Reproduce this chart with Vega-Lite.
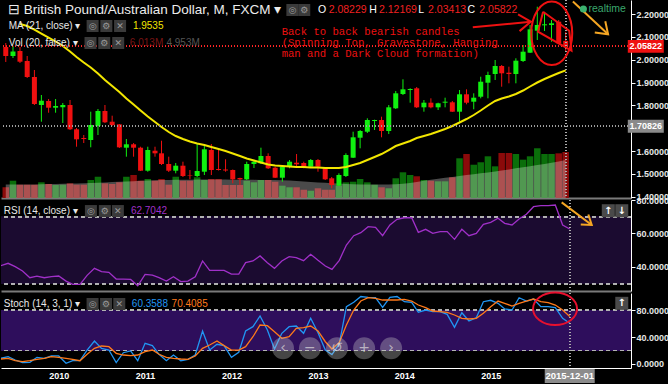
{
"$schema":"https://vega.github.io/schema/vega-lite/v6.json",
"background":"#000000",
"padding":{"left":0,"right":0,"top":-3,"bottom":0},
"spacing":2,
"bounds":"flush",
"config":{"view":{"stroke":null},"text":{"font":"Liberation Sans"},"axis":{"grid":false,"labelFont":"Liberation Sans","labelOverlap":false,"labelFlush":false,"labelBound":false}},
"datasets":{"m":[
{"date":"2009-05-01","open":2.0555,"high":2.073,"low":1.9899,"close":2.0161,"volume":1.4,"volMA":1.75,"ma21":null,"rsi":40.8,"stochK":8.4,"stochD":7.4},
{"date":"2009-06-01","open":2.0161,"high":2.0599,"low":2.0074,"close":2.0358,"volume":2.26,"volMA":1.75,"ma21":null,"rsi":42.2,"stochK":10.8,"stochD":8.4},
{"date":"2009-07-01","open":2.038,"high":2.0555,"low":1.9855,"close":1.9912,"volume":1.74,"volMA":1.76,"ma21":2.1562,"rsi":40.2,"stochK":5.9,"stochD":4.9},
{"date":"2009-08-01","open":1.9942,"high":2.0161,"low":1.9198,"close":1.9242,"volume":1.74,"volMA":1.77,"ma21":2.1475,"rsi":37.6,"stochK":2.0,"stochD":3.4},
{"date":"2009-09-01","open":1.9242,"high":1.9548,"low":1.8016,"close":1.806,"volume":1.74,"volMA":1.78,"ma21":2.1321,"rsi":33.6,"stochK":2.5,"stochD":4.9},
{"date":"2009-10-01","open":1.8016,"high":1.8454,"low":1.7285,"close":1.8204,"volume":2.05,"volMA":1.8,"ma21":2.1146,"rsi":34.6,"stochK":9.9,"stochD":6.9},
{"date":"2009-11-01","open":1.8191,"high":1.8279,"low":1.7679,"close":1.7898,"volume":1.83,"volMA":1.82,"ma21":2.0971,"rsi":33.6,"stochK":8.4,"stochD":8.4},
{"date":"2009-12-01","open":1.7898,"high":1.8279,"low":1.7679,"close":1.7972,"volume":1.7,"volMA":1.84,"ma21":2.0796,"rsi":34.2,"stochK":11.9,"stochD":10.8},
{"date":"2010-01-01","open":1.7915,"high":1.8104,"low":1.7228,"close":1.8016,"volume":1.74,"volMA":1.86,"ma21":2.0599,"rsi":34.6,"stochK":11.9,"stochD":9.9},
{"date":"2010-02-01","open":1.8016,"high":1.8235,"low":1.6922,"close":1.6952,"volume":1.92,"volMA":1.88,"ma21":2.0358,"rsi":31.6,"stochK":1.0,"stochD":8.4},
{"date":"2010-03-01","open":1.6952,"high":1.7009,"low":1.619,"close":1.6514,"volume":1.74,"volMA":1.9,"ma21":2.0118,"rsi":29.6,"stochK":4.9,"stochD":6.9},
{"date":"2010-04-01","open":1.6571,"high":1.6703,"low":1.6352,"close":1.6528,"volume":1.74,"volMA":1.93,"ma21":1.9877,"rsi":29.6,"stochK":4.9,"stochD":4.9},
{"date":"2010-05-01","open":1.6484,"high":1.7723,"low":1.6164,"close":1.714,"volume":2.35,"volMA":1.96,"ma21":1.9658,"rsi":35.0,"stochK":20.7,"stochD":14.4},
{"date":"2010-06-01","open":1.7097,"high":1.7841,"low":1.6703,"close":1.7753,"volume":2.78,"volMA":2.0,"ma21":1.9395,"rsi":39.2,"stochK":34.1,"stochD":23.2},
{"date":"2010-07-01","open":1.7753,"high":1.8016,"low":1.7228,"close":1.7259,"volume":1.92,"volMA":2.04,"ma21":1.9111,"rsi":37.2,"stochK":23.2,"stochD":26.7},
{"date":"2010-08-01","open":1.7285,"high":1.7548,"low":1.7097,"close":1.714,"volume":1.83,"volMA":2.08,"ma21":1.8848,"rsi":36.8,"stochK":20.7,"stochD":25.7},
{"date":"2010-09-01","open":1.7171,"high":1.7184,"low":1.6134,"close":1.6164,"volume":2.05,"volMA":2.12,"ma21":1.8585,"rsi":32.8,"stochK":2.0,"stochD":15.8},
{"date":"2010-10-01","open":1.6147,"high":1.6528,"low":1.5753,"close":1.6296,"volume":2.78,"volMA":2.16,"ma21":1.8301,"rsi":32.8,"stochK":16.7,"stochD":13.3},
{"date":"2010-11-01","open":1.6296,"high":1.6352,"low":1.5753,"close":1.6147,"volume":3.01,"volMA":2.2,"ma21":1.8038,"rsi":32.6,"stochK":19.3,"stochD":12.3},
{"date":"2010-12-01","open":1.6147,"high":1.619,"low":1.5127,"close":1.514,"volume":2.26,"volMA":2.24,"ma21":1.7775,"rsi":28.8,"stochK":4.9,"stochD":13.3},
{"date":"2011-01-01","open":1.514,"high":1.619,"low":1.5096,"close":1.6046,"volume":2.48,"volMA":2.28,"ma21":1.7513,"rsi":35.6,"stochK":30.6,"stochD":18.3},
{"date":"2011-02-01","open":1.6015,"high":1.619,"low":1.5753,"close":1.5901,"volume":2.26,"volMA":2.31,"ma21":1.7272,"rsi":35.2,"stochK":27.2,"stochD":20.7},
{"date":"2011-03-01","open":1.5901,"high":1.6453,"low":1.5389,"close":1.5433,"volume":2.48,"volMA":2.34,"ma21":1.7053,"rsi":33.6,"stochK":14.3,"stochD":14.4},
{"date":"2011-04-01","open":1.5433,"high":1.5753,"low":1.5083,"close":1.514,"volume":1.74,"volMA":2.36,"ma21":1.6834,"rsi":31.6,"stochK":4.9,"stochD":9.9},
{"date":"2011-05-01","open":1.514,"high":1.5477,"low":1.5026,"close":1.5359,"volume":2.78,"volMA":2.38,"ma21":1.6659,"rsi":34.2,"stochK":13.3,"stochD":8.4},
{"date":"2011-06-01","open":1.5359,"high":1.5534,"low":1.4864,"close":1.4908,"volume":2.26,"volMA":2.39,"ma21":1.6528,"rsi":31.3,"stochK":4.9,"stochD":7.4},
{"date":"2011-07-01","open":1.4951,"high":1.517,"low":1.4763,"close":1.493,"volume":2.26,"volMA":2.4,"ma21":1.6418,"rsi":31.6,"stochK":6.9,"stochD":6.9},
{"date":"2011-08-01","open":1.4908,"high":1.6339,"low":1.4864,"close":1.5127,"volume":2.71,"volMA":2.41,"ma21":1.6331,"rsi":34.2,"stochK":13.3,"stochD":11.9},
{"date":"2011-09-01","open":1.5096,"high":1.6221,"low":1.4951,"close":1.6077,"volume":2.35,"volMA":2.42,"ma21":1.6265,"rsi":43.6,"stochK":48.9,"stochD":23.2},
{"date":"2011-10-01","open":1.6046,"high":1.6309,"low":1.4951,"close":1.517,"volume":2.48,"volMA":2.42,"ma21":1.6177,"rsi":38.0,"stochK":20.7,"stochD":28.1},
{"date":"2011-11-01","open":1.5214,"high":1.6046,"low":1.5149,"close":1.517,"volume":2.48,"volMA":2.42,"ma21":1.609,"rsi":38.0,"stochK":29.2,"stochD":34.1},
{"date":"2011-12-01","open":1.5192,"high":1.5639,"low":1.5096,"close":1.5149,"volume":1.7,"volMA":2.41,"ma21":1.6002,"rsi":38.0,"stochK":27.2,"stochD":27.2},
{"date":"2012-01-01","open":1.517,"high":1.5192,"low":1.4588,"close":1.4763,"volume":1.7,"volMA":2.4,"ma21":1.5893,"rsi":35.8,"stochK":9.9,"stochD":20.7},
{"date":"2012-02-01","open":1.482,"high":1.4833,"low":1.4514,"close":1.4763,"volume":1.7,"volMA":2.39,"ma21":1.5783,"rsi":35.8,"stochK":17.3,"stochD":20.7},
{"date":"2012-03-01","open":1.4763,"high":1.5534,"low":1.4733,"close":1.5433,"volume":2.26,"volMA":2.38,"ma21":1.5674,"rsi":42.6,"stochK":48.9,"stochD":25.7},
{"date":"2012-04-01","open":1.5433,"high":1.5608,"low":1.5258,"close":1.5534,"volume":2.05,"volMA":2.37,"ma21":1.5586,"rsi":43.6,"stochK":55.3,"stochD":40.4},
{"date":"2012-05-01","open":1.5464,"high":1.6147,"low":1.5433,"close":1.5783,"volume":2.35,"volMA":2.36,"ma21":1.5499,"rsi":46.6,"stochK":71.1,"stochD":57.8},
{"date":"2012-06-01","open":1.5783,"high":1.5901,"low":1.5214,"close":1.5245,"volume":2.35,"volMA":2.35,"ma21":1.5411,"rsi":42.6,"stochK":50.4,"stochD":56.8},
{"date":"2012-07-01","open":1.5271,"high":1.5315,"low":1.482,"close":1.4833,"volume":2.13,"volMA":2.34,"ma21":1.5367,"rsi":39.2,"stochK":22.2,"stochD":47.9},
{"date":"2012-08-01","open":1.4833,"high":1.5389,"low":1.4658,"close":1.5315,"volume":1.61,"volMA":2.32,"ma21":1.5346,"rsi":43.6,"stochK":45.5,"stochD":38.0},
{"date":"2012-09-01","open":1.5315,"high":1.5608,"low":1.5245,"close":1.5534,"volume":1.4,"volMA":2.28,"ma21":1.5324,"rsi":46.2,"stochK":55.3,"stochD":40.4},
{"date":"2012-10-01","open":1.549,"high":1.5871,"low":1.5315,"close":1.542,"volume":1.4,"volMA":2.22,"ma21":1.5302,"rsi":45.6,"stochK":56.3,"stochD":52.9},
{"date":"2012-11-01","open":1.5477,"high":1.5534,"low":1.5245,"close":1.5289,"volume":1.08,"volMA":2.16,"ma21":1.5302,"rsi":43.8,"stochK":45.5,"stochD":53.8},
{"date":"2012-12-01","open":1.5315,"high":1.5652,"low":1.5302,"close":1.5608,"volume":0.95,"volMA":2.1,"ma21":1.528,"rsi":47.6,"stochK":67.7,"stochD":56.3},
{"date":"2013-01-01","open":1.5608,"high":1.5652,"low":1.5096,"close":1.5315,"volume":1.27,"volMA":2.04,"ma21":1.528,"rsi":44.0,"stochK":46.4,"stochD":48.9},
{"date":"2013-02-01","open":1.5258,"high":1.5302,"low":1.4733,"close":1.4763,"volume":1.08,"volMA":1.98,"ma21":1.5258,"rsi":40.6,"stochK":20.7,"stochD":33.0},
{"date":"2013-03-01","open":1.4807,"high":1.4864,"low":1.4369,"close":1.4514,"volume":1.08,"volMA":1.93,"ma21":1.5258,"rsi":38.6,"stochK":14.0,"stochD":22.2},
{"date":"2013-04-01","open":1.4483,"high":1.5026,"low":1.447,"close":1.4951,"volume":1.61,"volMA":1.88,"ma21":1.5258,"rsi":44.0,"stochK":30.0,"stochD":32.0},
{"date":"2013-05-01","open":1.4908,"high":1.5901,"low":1.4864,"close":1.5827,"volume":2.05,"volMA":1.84,"ma21":1.5302,"rsi":53.1,"stochK":84.9,"stochD":57.8},
{"date":"2013-06-01","open":1.5709,"high":1.6847,"low":1.5696,"close":1.6602,"volume":2.13,"volMA":1.8,"ma21":1.5389,"rsi":58.7,"stochK":91.4,"stochD":80.0},
{"date":"2013-07-01","open":1.6584,"high":1.6922,"low":1.612,"close":1.6878,"volume":2.48,"volMA":1.78,"ma21":1.5477,"rsi":60.5,"stochK":100,"stochD":93.3},
{"date":"2013-08-01","open":1.6847,"high":1.7434,"low":1.679,"close":1.7359,"volume":2.05,"volMA":1.77,"ma21":1.5608,"rsi":64.1,"stochK":98.8,"stochD":98.2},
{"date":"2013-09-01","open":1.7316,"high":1.7373,"low":1.6922,"close":1.7359,"volume":1.74,"volMA":1.76,"ma21":1.574,"rsi":63.7,"stochK":98.2,"stochD":97.3},
{"date":"2013-10-01","open":1.7359,"high":1.7504,"low":1.6602,"close":1.6878,"volume":1.4,"volMA":1.76,"ma21":1.5871,"rsi":58.7,"stochK":84.0,"stochD":94.8},
{"date":"2013-11-01","open":1.6878,"high":1.8016,"low":1.6746,"close":1.7915,"volume":1.27,"volMA":1.77,"ma21":1.6046,"rsi":65.1,"stochK":98.8,"stochD":94.8},
{"date":"2013-12-01","open":1.7872,"high":1.8629,"low":1.7841,"close":1.8528,"volume":2.58,"volMA":1.8,"ma21":1.6221,"rsi":68.5,"stochK":100,"stochD":94.8},
{"date":"2014-01-01","open":1.8498,"high":1.9141,"low":1.8454,"close":1.8703,"volume":3.36,"volMA":1.85,"ma21":1.6331,"rsi":69.4,"stochK":92.3,"stochD":95.8},
{"date":"2014-02-01","open":1.8673,"high":1.8747,"low":1.8117,"close":1.8717,"volume":3.01,"volMA":1.95,"ma21":1.644,"rsi":69.4,"stochK":91.4,"stochD":93.3},
{"date":"2014-03-01","open":1.8747,"high":1.8804,"low":1.7885,"close":1.7915,"volume":2.84,"volMA":2.1,"ma21":1.6571,"rsi":60.7,"stochK":76.6,"stochD":87.4},
{"date":"2014-04-01","open":1.7915,"high":1.8235,"low":1.7723,"close":1.8117,"volume":2.35,"volMA":2.25,"ma21":1.6659,"rsi":62.5,"stochK":80.0,"stochD":83.4},
{"date":"2014-05-01","open":1.8117,"high":1.8309,"low":1.7872,"close":1.7915,"volume":2.26,"volMA":2.4,"ma21":1.6746,"rsi":60.1,"stochK":77.5,"stochD":78.5},
{"date":"2014-06-01","open":1.7915,"high":1.8117,"low":1.7797,"close":1.8091,"volume":2.18,"volMA":2.52,"ma21":1.6856,"rsi":61.1,"stochK":77.5,"stochD":77.5},
{"date":"2014-07-01","open":1.8117,"high":1.8336,"low":1.7915,"close":1.8161,"volume":2.18,"volMA":2.64,"ma21":1.6965,"rsi":61.1,"stochK":73.6,"stochD":76.6},
{"date":"2014-08-01","open":1.8134,"high":1.8191,"low":1.771,"close":1.7723,"volume":2.71,"volMA":2.76,"ma21":1.7097,"rsi":56.5,"stochK":54.4,"stochD":72.6},
{"date":"2014-09-01","open":1.7723,"high":1.8673,"low":1.7285,"close":1.8485,"volume":5.19,"volMA":2.88,"ma21":1.725,"rsi":62.5,"stochK":76.0,"stochD":67.7},
{"date":"2014-10-01","open":1.8485,"high":1.8703,"low":1.8047,"close":1.8117,"volume":5.75,"volMA":3.0,"ma21":1.7403,"rsi":58.7,"stochK":63.7,"stochD":66.7},
{"date":"2014-11-01","open":1.8161,"high":1.8528,"low":1.7828,"close":1.8336,"volume":4.35,"volMA":3.1,"ma21":1.7578,"rsi":60.1,"stochK":68.6,"stochD":67.7},
{"date":"2014-12-01","open":1.8379,"high":1.9255,"low":1.8309,"close":1.9036,"volume":4.67,"volMA":3.22,"ma21":1.7775,"rsi":65.5,"stochK":92.3,"stochD":75.1},
{"date":"2015-01-01","open":1.8992,"high":1.9474,"low":1.8309,"close":1.9329,"volume":5.45,"volMA":3.34,"ma21":1.7994,"rsi":66.7,"stochK":94.4,"stochD":84.9},
{"date":"2015-02-01","open":1.9373,"high":1.9986,"low":1.9111,"close":1.9724,"volume":4.14,"volMA":3.46,"ma21":1.8191,"rsi":69.1,"stochK":89.9,"stochD":93.3},
{"date":"2015-03-01","open":1.9724,"high":1.9767,"low":1.8817,"close":1.9404,"volume":5.88,"volMA":3.6,"ma21":1.8301,"rsi":66.1,"stochK":81.5,"stochD":89.9},
{"date":"2015-04-01","open":1.943,"high":1.9693,"low":1.8966,"close":1.9373,"volume":5.88,"volMA":3.74,"ma21":1.8388,"rsi":65.1,"stochK":80.0,"stochD":85.9},
{"date":"2015-05-01","open":1.9373,"high":2.0061,"low":1.8966,"close":1.9956,"volume":5.75,"volMA":3.88,"ma21":1.8498,"rsi":68.7,"stochK":98.2,"stochD":89.9},
{"date":"2015-06-01","open":1.9942,"high":2.0643,"low":1.9899,"close":2.035,"volume":5.01,"volMA":4.02,"ma21":1.8651,"rsi":71.5,"stochK":93.3,"stochD":93.3},
{"date":"2015-07-01","open":2.0306,"high":2.1518,"low":2.0293,"close":2.133,"volume":5.45,"volMA":4.16,"ma21":1.8826,"rsi":76.0,"stochK":96.3,"stochD":96.3},
{"date":"2015-08-01","open":2.1269,"high":2.232,"low":2.0862,"close":2.1518,"volume":6.5,"volMA":4.3,"ma21":1.9001,"rsi":76.6,"stochK":84.9,"stochD":92.3},
{"date":"2015-09-01","open":2.1505,"high":2.2044,"low":2.1256,"close":2.1549,"volume":5.75,"volMA":4.45,"ma21":1.9154,"rsi":76.6,"stochK":84.9,"stochD":90.8},
{"date":"2015-10-01","open":2.1518,"high":2.1737,"low":2.0787,"close":2.1593,"volume":5.75,"volMA":4.6,"ma21":1.9286,"rsi":77.0,"stochK":83.4,"stochD":87.4},
{"date":"2015-11-01","open":2.1663,"high":2.1737,"low":2.0687,"close":2.0717,"volume":5.84,"volMA":4.78,"ma21":1.9417,"rsi":65.1,"stochK":67.7,"stochD":80.0},
{"date":"2015-12-01","open":2.08229,"high":2.12169,"low":2.03413,"close":2.05822,"volume":6.013,"volMA":4.953,"ma21":1.9535,"rsi":62.7042,"stochK":60.3588,"stochD":70.4085}
]},
"vconcat":[
{
"width":630,"height":198,
"data":{"name":"m"},
"resolve":{"scale":{"y":"independent"}},
"layer":[
 {"layer":[
  {"mark":{"type":"bar","size":6.5,"clip":true},
   "encoding":{
    "x":{"field":"date","type":"temporal","scale":{"domain":[{"year":2009,"month":5,"date":2},{"year":2016,"month":8,"date":16}]},"axis":{"labels":false,"ticks":false,"domain":true,"domainColor":"#7a7a7a","domainWidth":2,"title":null,"grid":false}},
    "y":{"field":"volume","type":"quantitative","scale":{"domain":[0,25.88],"nice":false},"axis":null},
    "color":{"condition":{"test":"datum.close >= datum.open","value":"#0a6e0a"},"value":"#8b0a0a"}}},
  {"mark":{"type":"area","color":"#ffffff","opacity":0.29,"clip":true},
   "encoding":{"x":{"field":"date","type":"temporal"},"y":{"field":"volMA","type":"quantitative","axis":null}}}
 ]},
 {"layer":[
  {"mark":{"type":"rule","clip":true},
   "encoding":{
    "x":{"field":"date","type":"temporal"},
    "y":{"field":"low","type":"quantitative","scale":{"domain":[1.3945,2.2613],"zero":false,"nice":false},"axis":{"orient":"right","values":[1.4,1.5,1.6,1.8,1.9,2.0,2.1,2.2],"tickCount":30,"format":".5f","tickSize":4,"labelPadding":1,"labelFontSize":9,"labelFontWeight":"bold","labelColor":"#e6e6e6","domainColor":"#ffffff","tickColor":"#ffffff","labelBound":false,"labelOverlap":false,"labelFlush":false,"title":null,"grid":false}},
    "y2":{"field":"high"},
    "color":{"condition":{"test":"datum.close >= datum.open","value":"#10f010"},"value":"#f01010"}}},
  {"mark":{"type":"bar","size":5,"clip":true},
   "encoding":{
    "x":{"field":"date","type":"temporal"},
    "y":{"field":"open","type":"quantitative"},
    "y2":{"field":"close"},
    "color":{"condition":{"test":"datum.close >= datum.open","value":"#10f010"},"value":"#f01010"}}},
  {"mark":{"type":"line","color":"#f2e600","strokeWidth":2,"clip":true},
   "encoding":{"x":{"field":"date","type":"temporal"},"y":{"field":"ma21","type":"quantitative"}}},
  {"mark":{"type":"rule","color":"#ff2a2a","strokeDash":[1,2]},"encoding":{"y":{"datum":2.05822,"type":"quantitative"}}},
  {"mark":{"type":"rule","color":"#a0a0a0","strokeDash":[1,2]},"encoding":{"y":{"datum":1.70826,"type":"quantitative"}}},
  {"mark":{"type":"rule","color":"#b0b0b0","strokeDash":[1,2]},"encoding":{"x":{"datum":{"year":2015,"month":12,"date":1},"type":"temporal"}}},
  {"data":{"values":[{"date":"2009-07-17","p":2.2175,"t":"British Pound/Australian Dollar, M, FXCM ▾"},{"date":"2009-05-10","p":2.2175,"t":"⊟"}]},
   "mark":{"type":"text","align":"left","baseline":"middle","fontSize":13.5,"color":"#ececec"},
   "encoding":{"x":{"field":"date","type":"temporal"},"y":{"field":"p","type":"quantitative"},"text":{"field":"t"}}},
  {"data":{"values":[{"date":"2013-01-01","p":2.2175,"t":"O","k":"l"},{"date":"2013-02-16","p":2.2175,"t":"2.08229","k":"v"},{"date":"2013-08-09","p":2.2175,"t":"H","k":"l"},{"date":"2013-09-20","p":2.2175,"t":"2.12169","k":"v"},{"date":"2014-03-08","p":2.2175,"t":"L","k":"l"},{"date":"2014-04-19","p":2.2175,"t":"2.03413","k":"v"},{"date":"2014-10-05","p":2.2175,"t":"C","k":"l"},{"date":"2014-11-25","p":2.2175,"t":"2.05822","k":"v"}]},
   "mark":{"type":"text","align":"left","baseline":"middle","fontSize":10.5},
   "encoding":{"x":{"field":"date","type":"temporal"},"y":{"field":"p","type":"quantitative"},"text":{"field":"t"},
    "color":{"condition":{"test":"datum.k == 'v'","value":"#f02020"},"value":"#ffffff"}}},
  {"data":{"values":[{"date":"2009-05-14","p":2.1475,"t":"MA (21, close) ▾","k":"label"},{"date":"2010-10-29","p":2.1475,"t":"1.9535","k":"ma"},{"date":"2009-05-14","p":2.073,"t":"Vol (20, false) ▾","k":"label"},{"date":"2010-10-16","p":2.073,"t":"6.013M","k":"vol"},{"date":"2011-03-22","p":2.073,"t":"4.953M","k":"volma"}]},
   "mark":{"type":"text","align":"left","baseline":"middle","fontSize":10},
   "encoding":{"x":{"field":"date","type":"temporal"},"y":{"field":"p","type":"quantitative"},"text":{"field":"t"},
    "color":{"condition":[{"test":"datum.k == 'ma'","value":"#f2e600"},{"test":"datum.k == 'vol'","value":"#7a1414"},{"test":"datum.k == 'volma'","value":"#555555"}],"value":"#e8e8e8"}}},
  {"data":{"values":[{"date":"2012-09-13","p":2.2175,"g":"◎"},{"date":"2012-11-03","p":2.2175,"g":"⚙"},{"date":"2010-05-09","p":2.1475,"g":"◎"},{"date":"2010-07-07","p":2.1475,"g":"⚙"},{"date":"2010-09-04","p":2.1475,"g":"✕"},{"date":"2010-04-30","p":2.073,"g":"◎"},{"date":"2010-06-28","p":2.073,"g":"⚙"},{"date":"2010-08-27","p":2.073,"g":"✕"}]},
   "layer":[
    {"mark":{"type":"point","shape":"square","size":144,"filled":true,"color":"#3a3a3a","opacity":1},
     "encoding":{"x":{"field":"date","type":"temporal"},"y":{"field":"p","type":"quantitative"}}},
    {"mark":{"type":"text","align":"center","baseline":"middle","fontSize":9,"color":"#9a9a9a","font":"DejaVu Sans"},
     "encoding":{"x":{"field":"date","type":"temporal"},"y":{"field":"p","type":"quantitative"},"text":{"field":"g"}}}
   ]},
  {"data":{"values":[{"date":"2012-07-29","p":2.1431,"t":"Back to back bearish candles\n(Spinning Top, Gravestone, Hanging\nman and a Dark Cloud formation)"}]},
   "mark":{"type":"text","align":"left","baseline":"top","font":"Liberation Mono","fontSize":10.6,"lineHeight":11,"lineBreak":"\n","color":"#ee1111"},
   "encoding":{"x":{"field":"date","type":"temporal"},"y":{"field":"p","type":"quantitative"},"text":{"field":"t"}}},
  {"data":{"values":[{"date":"2014-10-28","p":2.1418,"date2":"2015-07-04","p2":2.1663}],"format":{"parse":{"date":"date","date2":"date"}}},
   "mark":{"type":"rule","color":"#ee1111","strokeWidth":2},
   "encoding":{"x":{"field":"date","type":"temporal"},"x2":{"field":"date2"},"y":{"field":"p","type":"quantitative"},"y2":{"field":"p2"}}},
  {"data":{"values":[{"date":"2015-07-04","p":2.1663}]},
   "mark":{"type":"point","shape":"M-1,-0.7L0,0L-1,0.7","size":576,"filled":false,"color":"#ee1111","strokeWidth":2,"angle":-5,"opacity":1},
   "encoding":{"x":{"field":"date","type":"temporal"},"y":{"field":"p","type":"quantitative"}}},
  {"data":{"values":[{"date":"2015-10-02","p":2.1155}]},
   "mark":{"type":"point","shape":"M-0.647,0A0.647,1 0 1,1 0.647,0A0.647,1 0 1,1 -0.647,0Z","size":4020,"filled":false,"color":"#ee1111","strokeWidth":2,"opacity":1},
   "encoding":{"x":{"field":"date","type":"temporal"},"y":{"field":"p","type":"quantitative"}}},
  {"data":{"values":[{"date":"2015-08-26","p":2.2101,"k":1},{"date":"2015-12-16","p":2.1269,"k":2},{"date":"2015-12-26","p":2.0393,"k":3},{"date":"2015-08-04","p":2.1225,"k":4},{"date":"2015-08-26","p":2.2101,"k":5}]},
   "mark":{"type":"line","color":"#ee1111","strokeWidth":2},
   "encoding":{"x":{"field":"date","type":"temporal"},"y":{"field":"p","type":"quantitative"},"order":{"field":"k","type":"quantitative"}}},
  {"data":{"values":[{"date":"2016-01-01","p":2.2547,"date2":"2016-05-31","p2":2.1111}],"format":{"parse":{"date":"date","date2":"date"}}},
   "mark":{"type":"rule","color":"#f5a623","strokeWidth":2},
   "encoding":{"x":{"field":"date","type":"temporal"},"x2":{"field":"date2"},"y":{"field":"p","type":"quantitative"},"y2":{"field":"p2"}}},
  {"data":{"values":[{"date":"2016-05-31","p":2.1111}]},
   "mark":{"type":"point","shape":"M-1,-0.7L0,0L-1,0.7","size":484,"filled":false,"color":"#f5a623","strokeWidth":2,"angle":43,"opacity":1},
   "encoding":{"x":{"field":"date","type":"temporal"},"y":{"field":"p","type":"quantitative"}}},
  {"data":{"values":[{"date":"2016-02-15","p":2.2219}]},
   "mark":{"type":"point","shape":"circle","size":50,"filled":true,"color":"#3cb371","opacity":1},
   "encoding":{"x":{"field":"date","type":"temporal"},"y":{"field":"p","type":"quantitative"}}},
  {"data":{"values":[{"date":"2016-03-08","p":2.2219,"t":"realtime"}]},
   "mark":{"type":"text","align":"left","baseline":"middle","fontSize":10.5,"color":"#3aa76d"},
   "encoding":{"x":{"field":"date","type":"temporal"},"y":{"field":"p","type":"quantitative"},"text":{"field":"t"}}},
  {"data":{"values":[{"date":"2016-11-09","p":2.05822,"t":"2.05822","k":"cur"},{"date":"2016-11-09","p":1.70826,"t":"1.70826","k":"cross"}]},
   "layer":[
    {"mark":{"type":"point","shape":"M-1,-0.36L1,-0.36L1,0.36L-1,0.36Z","size":1296,"filled":true,"opacity":1},
     "encoding":{"x":{"field":"date","type":"temporal"},"y":{"field":"p","type":"quantitative"},
      "color":{"condition":{"test":"datum.k == 'cur'","value":"#ee1111"},"value":"#8a8a8a"}}},
    {"mark":{"type":"text","align":"center","baseline":"middle","fontSize":9,"fontWeight":"bold","color":"#ffffff"},
     "encoding":{"x":{"field":"date","type":"temporal"},"y":{"field":"p","type":"quantitative"},"text":{"field":"t"}}}
   ]}
 ]}
]
},
{
"width":630,"height":91,
"data":{"name":"m"},
"layer":[
 {"mark":{"type":"line","color":"#a030c8","strokeWidth":1.3,"clip":true,"opacity":0},
  "encoding":{
   "x":{"field":"date","type":"temporal","scale":{"domain":[{"year":2009,"month":5,"date":2},{"year":2016,"month":8,"date":16}]},"axis":{"labels":false,"ticks":false,"domain":true,"domainColor":"#7a7a7a","domainWidth":2,"title":null,"grid":false}},
   "y":{"field":"rsi","type":"quantitative","scale":{"domain":[25.67,80],"zero":false,"nice":false},"axis":{"orient":"right","values":[40,60,80],"tickCount":20,"format":".4f","tickSize":4,"labelPadding":1,"labelFontSize":9,"labelFontWeight":"bold","labelColor":"#e6e6e6","domainColor":"#ffffff","tickColor":"#ffffff","labelBound":false,"labelOverlap":false,"labelFlush":false,"title":null,"grid":false}}}},
 {"mark":{"type":"rect","color":"#1b0b30"},"encoding":{"y":{"datum":70,"type":"quantitative"},"y2":{"datum":30}}},
 {"mark":{"type":"rule","color":"#b4b4b4","strokeDash":[4,3]},"encoding":{"y":{"datum":70,"type":"quantitative"}}},
 {"mark":{"type":"rule","color":"#b4b4b4","strokeDash":[4,3]},"encoding":{"y":{"datum":30,"type":"quantitative"}}},
 {"mark":{"type":"line","color":"#a030c8","strokeWidth":1.3,"clip":true},
  "encoding":{"x":{"field":"date","type":"temporal"},"y":{"field":"rsi","type":"quantitative"}}},
 {"mark":{"type":"rule","color":"#b0b0b0","strokeDash":[1,2]},"encoding":{"x":{"datum":{"year":2015,"month":12,"date":1},"type":"temporal"}}},
 {"data":{"values":[{"date":"2009-05-14","v":73.4,"t":"RSI (14, close) ▾","k":"label"},{"date":"2010-11-02","v":73.4,"t":"62.7042","k":"rsi"}]},
  "mark":{"type":"text","align":"left","baseline":"middle","fontSize":10},
  "encoding":{"x":{"field":"date","type":"temporal"},"y":{"field":"v","type":"quantitative"},"text":{"field":"t"},
   "color":{"condition":{"test":"datum.k == 'rsi'","value":"#a030c8"},"value":"#e8e8e8"}}},
 {"data":{"values":[{"date":"2010-05-17","v":73.4,"g":"◎"},{"date":"2010-07-15","v":73.4,"g":"⚙"},{"date":"2010-09-08","v":73.4,"g":"✕"}]},
  "layer":[
   {"mark":{"type":"point","shape":"square","size":144,"filled":true,"color":"#3a3a3a","opacity":1},
    "encoding":{"x":{"field":"date","type":"temporal"},"y":{"field":"v","type":"quantitative"}}},
   {"mark":{"type":"text","align":"center","baseline":"middle","fontSize":9,"color":"#9a9a9a","font":"DejaVu Sans"},
    "encoding":{"x":{"field":"date","type":"temporal"},"y":{"field":"v","type":"quantitative"},"text":{"field":"g"}}}
  ]},
 {"data":{"values":[{"date":"2016-05-12","v":73.6,"g":"↑"},{"date":"2016-07-08","v":73.6,"g":"↓"}]},
  "layer":[
   {"mark":{"type":"point","shape":"square","size":169,"filled":true,"color":"#4a4a4a","opacity":1},
    "encoding":{"x":{"field":"date","type":"temporal"},"y":{"field":"v","type":"quantitative"}}},
   {"mark":{"type":"text","align":"center","baseline":"middle","fontSize":10,"fontWeight":"bold","color":"#ffffff","font":"DejaVu Sans"},
    "encoding":{"x":{"field":"date","type":"temporal"},"y":{"field":"v","type":"quantitative"},"text":{"field":"g"}}}
  ]},
 {"data":{"values":[{"date":"2015-10-28","v":78.6,"date2":"2016-03-03","v2":65.1}],"format":{"parse":{"date":"date","date2":"date"}}},
  "mark":{"type":"rule","color":"#f5a623","strokeWidth":2},
  "encoding":{"x":{"field":"date","type":"temporal"},"x2":{"field":"date2"},"y":{"field":"v","type":"quantitative"},"y2":{"field":"v2"}}},
 {"data":{"values":[{"date":"2016-03-03","v":65.1}]},
  "mark":{"type":"point","shape":"M-1,-0.7L0,0L-1,0.7","size":324,"filled":false,"color":"#f5a623","strokeWidth":2,"angle":37,"opacity":1},
  "encoding":{"x":{"field":"date","type":"temporal"},"y":{"field":"v","type":"quantitative"}}}
]
},
{
"width":630,"height":75,
"data":{"name":"m"},
"layer":[
 {"mark":{"type":"line","color":"#2196f3","strokeWidth":1.3,"clip":true,"opacity":0},
  "encoding":{
   "x":{"field":"date","type":"temporal","scale":{"domain":[{"year":2009,"month":5,"date":2},{"year":2016,"month":8,"date":16}]},"axis":{"values":[{"year":2010,"month":1,"date":1},{"year":2011,"month":1,"date":1},{"year":2012,"month":1,"date":1},{"year":2013,"month":1,"date":1},{"year":2014,"month":1,"date":1},{"year":2015,"month":1,"date":1}],"tickCount":30,"format":"%Y","labelFontSize":9,"labelFontWeight":"bold","labelColor":"#ffffff","ticks":false,"domainColor":"#ffffff","labelPadding":3,"title":null,"grid":false}},
   "y":{"field":"stochK","type":"quantitative","scale":{"domain":[-5.93,105.2],"zero":false,"nice":false},"axis":{"orient":"right","values":[0,40,80],"tickCount":20,"format":".4f","tickSize":4,"labelPadding":1,"labelFontSize":9,"labelFontWeight":"bold","labelColor":"#e6e6e6","domainColor":"#ffffff","tickColor":"#ffffff","labelBound":false,"labelOverlap":false,"labelFlush":false,"title":null,"grid":false}}}},
 {"mark":{"type":"rect","color":"#2e0e5c"},"encoding":{"y":{"datum":80,"type":"quantitative"},"y2":{"datum":20}}},
 {"mark":{"type":"rule","color":"#b4b4b4","strokeDash":[4,3]},"encoding":{"y":{"datum":80,"type":"quantitative"}}},
 {"mark":{"type":"rule","color":"#b4b4b4","strokeDash":[4,3]},"encoding":{"y":{"datum":20,"type":"quantitative"}}},
 {"mark":{"type":"line","color":"#2196f3","strokeWidth":1.3,"clip":true},
  "encoding":{"x":{"field":"date","type":"temporal"},"y":{"field":"stochK","type":"quantitative"}}},
 {"mark":{"type":"line","color":"#ff7a1a","strokeWidth":1.3,"clip":true},
  "encoding":{"x":{"field":"date","type":"temporal"},"y":{"field":"stochD","type":"quantitative"}}},
 {"mark":{"type":"rule","color":"#b0b0b0","strokeDash":[1,2]},"encoding":{"x":{"datum":{"year":2015,"month":12,"date":1},"type":"temporal"}}},
 {"data":{"values":[{"date":"2015-09-30","v":81.9}]},
  "mark":{"type":"point","shape":"M-1,0A1,0.741 0 1,1 1,0A1,0.741 0 1,1 -1,0Z","size":1936,"filled":false,"color":"#e8102e","strokeWidth":2,"opacity":1},
  "encoding":{"x":{"field":"date","type":"temporal"},"y":{"field":"v","type":"quantitative"}}},
 {"data":{"values":[{"date":"2012-08-06","v":23.3,"g":"‹"},{"date":"2012-11-28","v":23.3,"g":"−"},{"date":"2013-03-22","v":23.3,"g":"↺"},{"date":"2013-07-15","v":23.3,"g":"+"},{"date":"2013-11-06","v":23.3,"g":"›"}]},
  "layer":[
   {"mark":{"type":"point","shape":"circle","size":484,"filled":true,"color":"#c8c8c8","opacity":0.35},
    "encoding":{"x":{"field":"date","type":"temporal"},"y":{"field":"v","type":"quantitative"}}},
   {"mark":{"type":"text","align":"center","baseline":"middle","fontSize":14,"color":"#dddddd","opacity":0.7,"font":"DejaVu Sans"},
    "encoding":{"x":{"field":"date","type":"temporal"},"y":{"field":"v","type":"quantitative"},"text":{"field":"g"}}}
  ]},
 {"data":{"values":[{"date":"2009-05-14","v":88.9,"t":"Stoch (14, 3, 1) ▾","k":"label"},{"date":"2010-11-06","v":88.9,"t":"60.3588","k":"k"},{"date":"2011-04-23","v":88.9,"t":"70.4085","k":"d"}]},
  "mark":{"type":"text","align":"left","baseline":"middle","fontSize":10},
  "encoding":{"x":{"field":"date","type":"temporal"},"y":{"field":"v","type":"quantitative"},"text":{"field":"t"},
   "color":{"condition":[{"test":"datum.k == 'k'","value":"#2196f3"},{"test":"datum.k == 'd'","value":"#ff7a1a"}],"value":"#e8e8e8"}}},
 {"data":{"values":[{"date":"2010-05-24","v":88.9,"g":"◎"},{"date":"2010-07-20","v":88.9,"g":"⚙"},{"date":"2010-09-14","v":88.9,"g":"✕"}]},
  "layer":[
   {"mark":{"type":"point","shape":"square","size":144,"filled":true,"color":"#3a3a3a","opacity":1},
    "encoding":{"x":{"field":"date","type":"temporal"},"y":{"field":"v","type":"quantitative"}}},
   {"mark":{"type":"text","align":"center","baseline":"middle","fontSize":9,"color":"#9a9a9a","font":"DejaVu Sans"},
    "encoding":{"x":{"field":"date","type":"temporal"},"y":{"field":"v","type":"quantitative"},"text":{"field":"g"}}}
  ]},
 {"data":{"values":[{"date":"2016-07-08","v":89.9,"g":"↑"}]},
  "layer":[
   {"mark":{"type":"point","shape":"square","size":169,"filled":true,"color":"#4a4a4a","opacity":1},
    "encoding":{"x":{"field":"date","type":"temporal"},"y":{"field":"v","type":"quantitative"}}},
   {"mark":{"type":"text","align":"center","baseline":"middle","fontSize":10,"fontWeight":"bold","color":"#ffffff","font":"DejaVu Sans"},
    "encoding":{"x":{"field":"date","type":"temporal"},"y":{"field":"v","type":"quantitative"},"text":{"field":"g"}}}
  ]},
 {"data":{"values":[{"date":"2015-12-01","v":-17.8,"t":"2015-12-01"}]},
  "layer":[
   {"mark":{"type":"point","shape":"M-1,-0.28L1,-0.28L1,0.28L-1,0.28Z","size":2500,"filled":true,"color":"#8c8c8c","opacity":1},
    "encoding":{"x":{"field":"date","type":"temporal"},"y":{"field":"v","type":"quantitative"}}},
   {"mark":{"type":"text","align":"center","baseline":"middle","fontSize":9.5,"fontWeight":"bold","color":"#ffffff"},
    "encoding":{"x":{"field":"date","type":"temporal"},"y":{"field":"v","type":"quantitative"},"text":{"field":"t"}}}
  ]}
]
}
]
}
